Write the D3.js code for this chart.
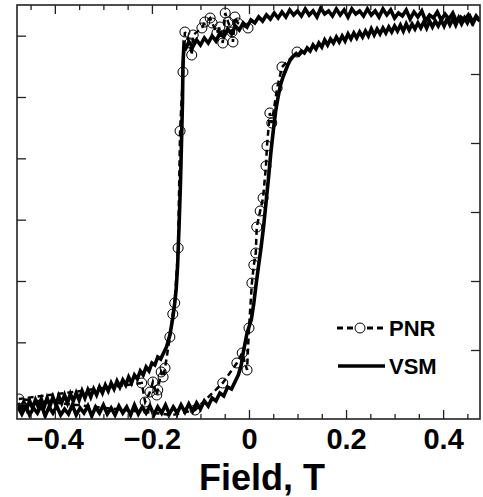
<!DOCTYPE html>
<html><head><meta charset="utf-8">
<script src="https://cdn.jsdelivr.net/npm/d3@7"></script>
<style>body{margin:0;background:#fff}svg{display:block}</style>
</head><body><svg id="c" width="483" height="497"></svg>
<script>
// ---- data (field in T, magnetization in % of saturation) ----
const vsmDescH = [0.476,0.468,0.460,0.452,0.444,0.436,0.428,0.420,0.412,0.404,0.396,0.388,0.380,0.372,0.364,0.356,0.348,0.340,0.332,0.324,0.316,0.308,0.300,0.292,0.284,0.276,0.268,0.260,0.252,0.244,0.236,0.228,0.220,0.212,0.204,0.196,0.188,0.180,0.172,0.164,0.156,0.148,0.140,0.132,0.124,0.116,0.108,0.100,0.092,0.084,0.076,0.068,0.060,0.052,0.044,0.036,0.028,0.020,0.012,0.004,-0.004,-0.012,-0.020,-0.028,-0.036,-0.044,-0.052,-0.060,-0.068,-0.076,-0.084,-0.092,-0.100,-0.108,-0.116,-0.124,-0.130,-0.134,-0.136,-0.137,-0.139,-0.141,-0.144,-0.147,-0.150,-0.153,-0.157,-0.163,-0.170,-0.176,-0.182,-0.188,-0.194,-0.200,-0.206,-0.212,-0.218,-0.224,-0.230,-0.236,-0.242,-0.248,-0.254,-0.260,-0.266,-0.272,-0.278,-0.284,-0.290,-0.296,-0.302,-0.308,-0.314,-0.320,-0.326,-0.332,-0.338,-0.344,-0.350,-0.356,-0.362,-0.368,-0.374,-0.380,-0.386,-0.392,-0.398,-0.404,-0.410,-0.416,-0.422,-0.428,-0.434,-0.440,-0.446,-0.452,-0.458,-0.464,-0.470,-0.476];
const vsmDescM = [95,97.5,94,98,95.5,97,94.5,99,96,98.5,95.5,99.5,96.5,98,95,100,97,99.5,96,100.5,97.5,99,96.5,100.5,98,101,97,100,98,101,97.5,100,98.5,101,97,100.5,98,101,97.5,100,98.5,101.5,97,100,98,101,97.5,100,98,100.5,97,99.5,96.5,99,96,98,95,97,94,95.5,92,94,90.5,92.5,88.5,91,87,89,85,87.5,84,86.5,83,85.5,82,84.5,81.5,83,74,55,35,15,-7,-27,-39,-46,-53.5,-62,-68,-71,-74,-73,-77,-76,-80,-78,-82,-80,-84,-82,-86,-83,-87,-84.5,-88,-85,-89,-86,-90,-87,-91,-88,-92,-89,-93,-89.5,-93.5,-90,-94.5,-91,-95,-91.5,-96,-92,-96,-92.5,-97,-93,-97.5,-93.5,-98,-94,-98,-94.5,-98.5,-95,-99,-95.5,-99,-96];
const vsmAscH = [-0.476,-0.468,-0.460,-0.452,-0.444,-0.436,-0.428,-0.420,-0.412,-0.404,-0.396,-0.388,-0.380,-0.372,-0.364,-0.356,-0.348,-0.340,-0.332,-0.324,-0.316,-0.308,-0.300,-0.292,-0.284,-0.276,-0.268,-0.260,-0.252,-0.244,-0.236,-0.228,-0.220,-0.212,-0.204,-0.196,-0.188,-0.180,-0.172,-0.164,-0.156,-0.148,-0.140,-0.132,-0.124,-0.116,-0.108,-0.100,-0.092,-0.084,-0.076,-0.068,-0.060,-0.052,-0.044,-0.036,-0.028,-0.022,-0.016,-0.012,-0.008,-0.004,0.000,0.005,0.010,0.015,0.020,0.025,0.030,0.035,0.040,0.045,0.050,0.055,0.060,0.065,0.070,0.075,0.080,0.085,0.090,0.096,0.102,0.108,0.114,0.120,0.126,0.132,0.138,0.144,0.150,0.156,0.162,0.168,0.174,0.180,0.186,0.192,0.198,0.204,0.210,0.216,0.222,0.228,0.234,0.240,0.246,0.252,0.258,0.264,0.270,0.276,0.282,0.288,0.294,0.300,0.306,0.312,0.318,0.324,0.330,0.336,0.342,0.348,0.354,0.360,0.366,0.372,0.378,0.384,0.390,0.396,0.402,0.408,0.414,0.420,0.426,0.432,0.438,0.444,0.450,0.456,0.462,0.468,0.476];
const vsmAscM = [-98,-101.5,-97.5,-102,-98.5,-101,-97,-102.5,-98,-101,-97.5,-102,-99,-101.5,-97,-102,-98.5,-101,-97.5,-102.5,-98,-101,-97,-101.5,-98.5,-102,-97.5,-101,-98,-102,-97,-101.5,-98,-101,-97.5,-102,-98,-101,-97,-101.5,-98,-101,-97,-100.5,-96.5,-100,-96,-99,-95,-97.5,-93.5,-95,-91,-92.5,-88,-89,-85,-82,-77,-71,-66,-61,-58,-54,-46,-36,-27,-18,-8,4,16,29,40,50,57,63,67,70,73,75.5,77,78.5,78,80,79,81.5,80,83,81,84,82,85.5,83,86,84,87,84.5,87.5,85,88.5,86,89,86.5,89.5,87,90,87.5,91,88,91,88.5,91.5,89,92,89.5,92.5,90,93,90,93.5,90.5,93.5,91,94,91.5,94.5,91.5,95,92,95,92.5,95.5,92.5,96,93,96,93,96.5,93.5,96.5,94,97,94,97,95];
const pnrH = [-0.002,-0.023,-0.029,-0.033,-0.035,-0.043,-0.049,-0.054,-0.060,-0.066,-0.076,-0.080,-0.091,-0.097,-0.115,-0.118,-0.122,-0.132,-0.136,-0.142,-0.146,-0.153,-0.157,-0.163,-0.173,-0.177,-0.181,-0.188,-0.190,-0.198,-0.204,-0.214,-0.221,-0.474,-0.157,-0.111,-0.054,-0.025,-0.014,-0.004,0.000,0.006,0.010,0.014,0.016,0.023,0.029,0.035,0.037,0.043,0.047,0.058,0.068,0.099];
const pnrM = [91.5,94,97,84.5,89.5,94.5,99,84,92,89,94,96.5,94.5,91.5,88,78,84,89.5,69.5,40,-18.5,-46,-51.5,-63,-78.5,-83,-80.5,-89.5,-92,-85.5,-90.5,-95.5,-86,-94,-102,-99.5,-86,-76,-71,-79.5,-58.5,-36,-27,-21,-8,0,6.5,22.5,32.5,49,44,61.5,72,79.5];
const xMajorTicks = [-0.4,-0.2,0,0.2,0.4];
const xMinorTicks = [-0.45,-0.35,-0.3,-0.25,-0.15,-0.1,-0.05,0.05,0.1,0.15,0.25,0.3,0.35,0.45];
const leftTicks = [0,1,2,3,4,5,6];
const rightTicks = [1,2,3,4,5];
const legendLabels = ["PNR","VSM"];
const xTitle = "Field, T";

// ---- layout ----
const L = 17, R = 480, T = 5, B = 419;
const svg = d3.select("#c");
const x = d3.scaleLinear().domain([-0.478, 0.476]).range([L, R]);
const y = d3.scaleLinear().domain([-104, 103]).range([B, T]);
const yLeft = d3.scaleLinear().domain([-0.25, 6.5]).range([B, T]);
const yRight = d3.scaleLinear().domain([0, 6]).range([B, T]);
const font = "'Liberation Sans', Arial, Helvetica, sans-serif";

svg.append("defs").append("clipPath").attr("id","clip")
  .append("rect").attr("x",L).attr("y",T).attr("width",R-L).attr("height",B-T);

const plot = svg.append("g").attr("clip-path","url(#clip)");
const line = d3.line().x(d => x(d[0])).y(d => y(d[1]));

const desc = vsmDescH.map((h,i) => [h, vsmDescM[i]]);
const asc = vsmAscH.map((h,i) => [h, vsmAscM[i]]);
const pnr = pnrH.map((h,i) => [h, pnrM[i]]);

plot.append("path").attr("d", line(pnr)).attr("fill","none").attr("stroke","#000")
  .attr("stroke-width",2.5).attr("stroke-dasharray","6,4");
[desc, asc].forEach(s => plot.append("path").attr("d", line(s)).attr("fill","none")
  .attr("stroke","#000").attr("stroke-width",3.6).attr("stroke-linejoin","miter"));
plot.selectAll("circle.p").data(pnr).join("circle").attr("class","p")
  .attr("cx", d => x(d[0])).attr("cy", d => y(d[1])).attr("r",5)
  .attr("fill","none").attr("stroke","#000").attr("stroke-width",1);

// ---- axes ----
const axCol = "#222";
function styleAxis(g){ g.select(".domain").remove(); g.selectAll("line").attr("stroke",axCol).attr("stroke-width",1.3); }
svg.append("g").attr("transform",`translate(0,${B})`)
  .call(d3.axisBottom(x).tickValues(xMinorTicks).tickSize(-5).tickFormat(""))
  .call(styleAxis);
svg.append("g").attr("transform",`translate(0,${B})`)
  .call(d3.axisBottom(x).tickValues(xMajorTicks).tickSize(-9).tickPadding(9)
    .tickFormat(d => d === 0 ? "0" : d3.format(".1f")(d)))
  .call(styleAxis)
  .call(g => g.selectAll("text").attr("font-family",font).attr("font-weight","bold")
    .attr("font-size",29).attr("fill","#000").attr("dy","0.71em"));
svg.append("g").attr("transform",`translate(0,${T})`)
  .call(d3.axisTop(x).tickValues(xMinorTicks).tickSize(-5).tickFormat("")).call(styleAxis);
svg.append("g").attr("transform",`translate(0,${T})`)
  .call(d3.axisTop(x).tickValues(xMajorTicks).tickSize(-9).tickFormat("")).call(styleAxis);
svg.append("g").attr("transform",`translate(${L},0)`)
  .call(d3.axisLeft(yLeft).tickValues(leftTicks).tickSize(-9).tickFormat("")).call(styleAxis);
svg.append("g").attr("transform",`translate(${R},0)`)
  .call(d3.axisRight(yRight).tickValues(rightTicks).tickSize(-9).tickFormat("")).call(styleAxis);

svg.append("rect").attr("x",L).attr("y",T).attr("width",R-L).attr("height",B-T)
  .attr("fill","none").attr("stroke",axCol).attr("stroke-width",1.6);

svg.append("text").attr("x",262).attr("y",490).attr("text-anchor","middle")
  .attr("font-family",font).attr("font-weight","bold").attr("font-size",36).text(xTitle);

// ---- legend ----
const lg = svg.append("g");
const ly = [328, 366];
lg.append("line").attr("x1",337).attr("x2",385).attr("y1",ly[0]).attr("y2",ly[0])
  .attr("stroke","#000").attr("stroke-width",3).attr("stroke-dasharray","6,4");
lg.append("circle").attr("cx",360).attr("cy",ly[0]).attr("r",5).attr("fill","#fff")
  .attr("stroke","#000").attr("stroke-width",1);
lg.append("line").attr("x1",338).attr("x2",385).attr("y1",ly[1]).attr("y2",ly[1])
  .attr("stroke","#000").attr("stroke-width",3.5);
legendLabels.forEach((t,i) => lg.append("text").attr("x",389).attr("y",ly[i]+8)
  .attr("font-family",font).attr("font-weight","bold").attr("font-size",22).text(t));
</script></body></html>
